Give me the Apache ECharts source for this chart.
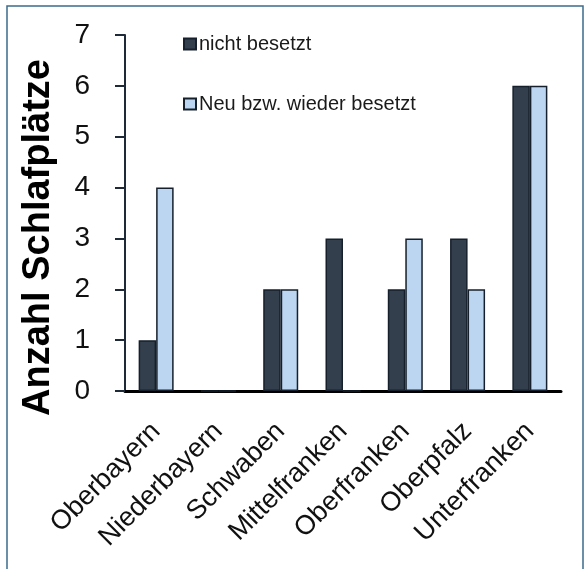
<!DOCTYPE html>
<html>
<head>
<meta charset="utf-8">
<script src="https://cdn.jsdelivr.net/npm/echarts@6/dist/echarts.min.js"></script>
<style>
html,body{margin:0;padding:0;background:#fff;}
#chart{width:584px;height:569px;}
</style>
</head>
<body>
<div id="chart"></div>
<script>
const categories = ['Oberbayern', 'Niederbayern', 'Schwaben', 'Mittelfranken', 'Oberfranken', 'Oberpfalz', 'Unterfranken'];
const nichtBesetzt = [1, 0, 2, 3, 2, 3, 6];
const neuBesetzt = [4, 0, 2, 0, 3, 2, 6];
const seriesNames = ['nicht besetzt', 'Neu bzw. wieder besetzt'];
const yAxisTitle = 'Anzahl Schlafplätze';

const chart = echarts.init(document.getElementById('chart'), null, {renderer: 'canvas'});
const FONT = '"Liberation Sans", Arial, sans-serif';
chart.setOption({
  animation: false,
  backgroundColor: '#ffffff',
  textStyle: {fontFamily: FONT},
  graphic: [{
    type: 'rect',
    shape: {x: 7, y: 6, width: 576, height: 600},
    style: {fill: 'none', stroke: '#3d6b8c', lineWidth: 1.5},
    silent: true,
    z: -1
  }],
  grid: {left: 125, top: 35, right: 23, bottom: 178, containLabel: false},
  legend: {
    orient: 'vertical',
    left: 183,
    top: 34,
    padding: 0,
    itemWidth: 12,
    itemHeight: 11,
    itemGap: 40,
    icon: 'rect',
    textStyle: {fontSize: 20, color: '#1a1a1a', fontFamily: FONT, padding: [0, 0, 0, -2]},
    data: seriesNames
  },
  xAxis: {
    type: 'category',
    data: categories,
    axisLine: {lineStyle: {color: '#000', width: 3}},
    axisTick: {show: false},
    axisLabel: {rotate: 45, fontSize: 27, color: '#111', margin: 36, interval: 0, fontFamily: FONT}
  },
  yAxis: {
    type: 'value',
    min: 0, max: 7, interval: 1,
    name: yAxisTitle,
    nameLocation: 'middle',
    nameGap: 67,
    nameTextStyle: {fontSize: 38, fontWeight: 'bold', color: '#000', fontFamily: FONT, padding: [0, 49, 0, 0]},
    axisLine: {show: true, lineStyle: {color: '#1f2a38', width: 2}},
    axisTick: {show: true, inside: false, length: 10, lineStyle: {color: '#1f2a38', width: 2}},
    splitLine: {show: false},
    axisLabel: {fontSize: 28, color: '#111', margin: 35, fontFamily: FONT}
  },
  series: [
    {
      name: seriesNames[0], type: 'bar', data: nichtBesetzt,
      barWidth: 17.5, barGap: '0%',
      itemStyle: {color: '#343f4e', borderColor: '#16202c', borderWidth: 1.5}
    },
    {
      name: seriesNames[1], type: 'bar', data: neuBesetzt,
      barWidth: 17.5, barGap: '0%',
      itemStyle: {color: '#bcd6f2', borderColor: '#16202c', borderWidth: 1.5}
    }
  ]
});
</script>
</body>
</html>
